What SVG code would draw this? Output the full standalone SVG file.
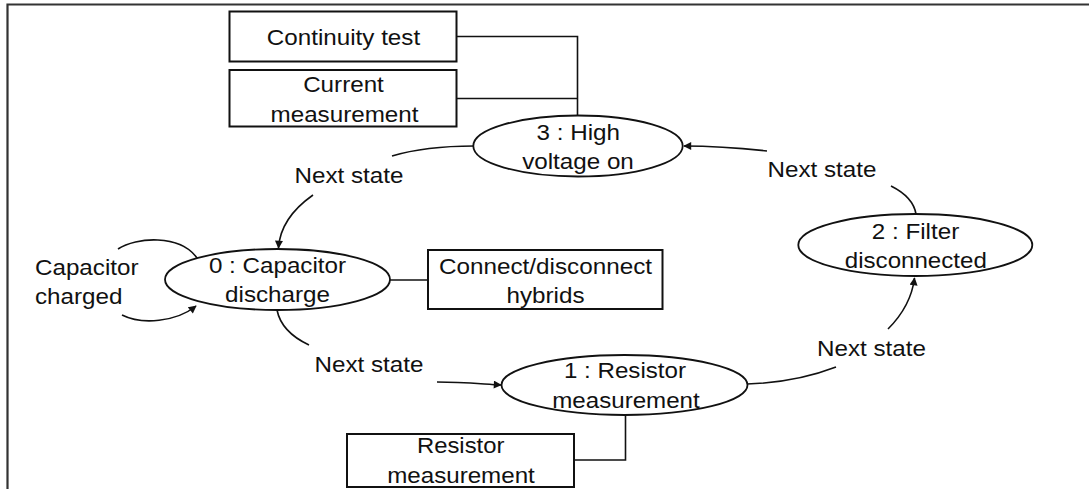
<svg xmlns="http://www.w3.org/2000/svg" width="1089" height="489" viewBox="0 0 1089 489">
<defs>
<style>
text{font-family:"Liberation Sans",Arial,sans-serif;font-size:22px;fill:#111;text-anchor:middle}
.l{text-anchor:start}
.box{fill:#fff;stroke:#111;stroke-width:2}
.st{fill:#fff;stroke:#111;stroke-width:1.8}
.c{fill:none;stroke:#111;stroke-width:1.6}
.frame{fill:none;stroke:#333;stroke-width:2.2}
</style>
<marker id="ah" viewBox="0 0 10 10" refX="9" refY="5" markerWidth="10" markerHeight="8" markerUnits="userSpaceOnUse" orient="auto">
<path d="M0,0 L10,5 L0,10 z" fill="#111"/>
</marker>
</defs>
<rect width="1089" height="489" fill="#fff"/>
<path class="frame" d="M7.5 489 V4.5 H1089"/>

<g id="connectors">
<path class="c" d="M457 36.5 H577.5 V116"/>
<path class="c" d="M457 98.5 H577.5"/>
<path class="c" d="M390 280 H428"/>
<path class="c" d="M625.5 415.5 V460 H574"/>
<path class="c" d="M474 146 C440 146 412 150 392 156"/>
<path class="c" d="M313 195 C296 207 280 224 278.5 248" marker-end="url(#ah)"/>
<path class="c" d="M118 249 C136 237 180 234 197 258"/>
<path class="c" d="M122 315 C142 325 176 322 196 306" marker-end="url(#ah)"/>
<path class="c" d="M277 310 C280 325 292 337 309 345"/>
<path class="c" d="M437 382 C462 382 482 384 501 385" marker-end="url(#ah)"/>
<path class="c" d="M747 384 C780 383 810 377 836 367"/>
<path class="c" d="M888 329 C901 316 912 298 914.5 278" marker-end="url(#ah)"/>
<path class="c" d="M916 214 C914 202 905 193 891 186"/>
<path class="c" d="M767 151 C740 148 712 146 684 146" marker-end="url(#ah)"/>
<text x="349" y="183" textLength="108.9" lengthAdjust="spacingAndGlyphs">Next state</text>
<text x="822" y="177" textLength="108.9" lengthAdjust="spacingAndGlyphs">Next state</text>
<text class="l" x="35" y="275" textLength="103.5" lengthAdjust="spacingAndGlyphs">Capacitor</text>
<text class="l" x="35" y="304" textLength="87.4" lengthAdjust="spacingAndGlyphs">charged</text>
<text x="369" y="371.5" textLength="108.9" lengthAdjust="spacingAndGlyphs">Next state</text>
<text x="871.5" y="355.5" textLength="108.9" lengthAdjust="spacingAndGlyphs">Next state</text>
</g>

<g id="continuity-test">
<rect class="box" x="229.5" y="11.5" width="227" height="50"/>
<text x="343.5" y="45" textLength="153.3" lengthAdjust="spacingAndGlyphs">Continuity test</text>
</g>

<g id="current-measurement">
<rect class="box" x="229.5" y="70" width="227" height="56.5"/>
<text x="343.5" y="92" textLength="80.7" lengthAdjust="spacingAndGlyphs">Current</text>
<text x="344.5" y="121.5" textLength="147.9" lengthAdjust="spacingAndGlyphs">measurement</text>
</g>

<g id="state3">
<ellipse class="st" cx="578" cy="146" rx="104.7" ry="30.5"/>
<text x="578.3" y="140" textLength="83.4" lengthAdjust="spacingAndGlyphs">3 : High</text>
<text x="578" y="168.5" textLength="111.7" lengthAdjust="spacingAndGlyphs">voltage on</text>
</g>

<g id="state0">
<ellipse class="st" cx="277.5" cy="279.5" rx="112.5" ry="30.5"/>
<text x="277.5" y="273" textLength="137.2" lengthAdjust="spacingAndGlyphs">0 : Capacitor</text>
<text x="277.5" y="302" textLength="104.9" lengthAdjust="spacingAndGlyphs">discharge</text>
</g>

<g id="connect-hybrids">
<rect class="box" x="428" y="250" width="234.5" height="59"/>
<text x="545.5" y="274" textLength="213" lengthAdjust="spacingAndGlyphs">Connect/disconnect</text>
<text x="545.5" y="302.5" textLength="78" lengthAdjust="spacingAndGlyphs">hybrids</text>
</g>

<g id="state2">
<ellipse class="st" cx="915.3" cy="245" rx="117" ry="31"/>
<text x="915.5" y="239" textLength="87.4" lengthAdjust="spacingAndGlyphs">2 : Filter</text>
<text x="915.8" y="268" textLength="142" lengthAdjust="spacingAndGlyphs">disconnected</text>
</g>

<g id="state1">
<ellipse class="st" cx="624.5" cy="385" rx="123" ry="30"/>
<text x="625" y="378" textLength="122" lengthAdjust="spacingAndGlyphs">1 : Resistor</text>
<text x="626" y="408" textLength="147.5" lengthAdjust="spacingAndGlyphs">measurement</text>
</g>

<g id="resistor-measurement">
<rect class="box" x="347" y="434" width="227" height="53"/>
<text x="460.7" y="453" textLength="87.5" lengthAdjust="spacingAndGlyphs">Resistor</text>
<text x="461" y="483" textLength="147.7" lengthAdjust="spacingAndGlyphs">measurement</text>
</g>
</svg>
